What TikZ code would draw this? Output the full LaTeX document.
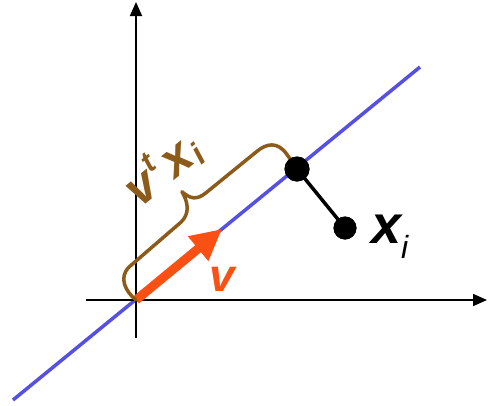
\documentclass[tikz,border=0pt]{standalone}
\usepackage{fontspec}
\setmainfont{Liberation Sans}
\usetikzlibrary{arrows.meta}
\definecolor{lineblue}{RGB}{85,80,225}
\definecolor{vorange}{RGB}{250,80,20}
\definecolor{bracebrown}{RGB}{140,90,25}
\tikzset{
  axis/.style={line width=1.8pt, black, -{Triangle[length=14pt,width=12pt]}},
  projline/.style={line width=3.5pt, lineblue},
  vecarrow/.style={line width=9pt, vorange, -{Triangle[length=31pt,width=30pt]}},
  bracestyle/.style={line width=3.5pt, bracebrown, line cap=round, line join=round},
  dot/.style={circle, fill=black, inner sep=0pt, minimum size=#1},
  seg/.style={line width=3.5pt, black},
  lbl/.style={inner sep=0pt, font=\bfseries\itshape}
}
\begin{document}
\begin{tikzpicture}[x=1pt,y=-1pt]
\useasboundingbox (0,0) rectangle (488,405);
\coordinate (O) at (136,300);
\coordinate (A) at (13,400);
\coordinate (B) at (420,67);
\coordinate (Ybot) at (136,338);
\coordinate (Ytop) at (136,2);
\coordinate (Xleft) at (86,300);
\coordinate (Xright) at (487,300);
\coordinate (V) at (222,229);
\draw[projline] (A) -- (B);
\draw[axis] (Ybot) -- (Ytop);
\draw[axis] (Xleft) -- (Xright);
\draw[vecarrow] (O) -- (V);
% brace drawn in a frame aligned with the projection line
\begin{scope}[shift={(O)}, x={(0.7756pt,0.631pt)}, y={(-0.631pt,0.7756pt)}]
\draw[bracestyle] (0,0) .. controls (-3,14) and (1,29) .. (16,30)
  -- (84,32) .. controls (96,33) and (102,42) .. (104,55)
  .. controls (106,44) and (110,39) .. (122,39)
  -- (188,39) .. controls (200,39) and (210,34) .. (209,18) -- (208,4);
\node[lbl, text=bracebrown, rotate=39.1, font=\fontsize{50}{50}\selectfont\bfseries\itshape] (vtx) at (103,86)
  {v\kern2pt\raisebox{0.42em}{\fontsize{30}{30}\selectfont t}\kern5pt x\kern1pt\raisebox{-0.1em}{\fontsize{32}{32}\selectfont i}};
\end{scope}
\node[dot=25pt] (P) at (297,169) {};
\node[dot=23pt] (X) at (345,228) {};
\draw[seg] (P.center) -- (X.center);
\node[dot=25pt] at (P) {};
\node[dot=23pt] at (X) {};
\node[lbl, text=vorange, font=\fontsize{46}{46}\selectfont\bfseries\itshape] (vlab) at (222,279) {v};
\node[lbl, anchor=base west, font=\fontsize{54}{54}\selectfont\bfseries\itshape] (xlab) at (371,243) {x\raisebox{-0.28em}{\fontsize{32}{32}\selectfont\mdseries i}};
\end{tikzpicture}
\end{document}
